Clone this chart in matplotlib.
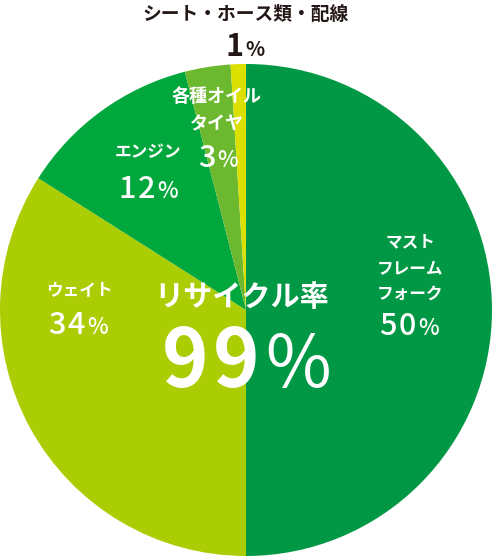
import matplotlib.pyplot as plt

plt.rcParams['font.family'] = ['Noto Sans CJK JP', 'DejaVu Sans']

# data, clockwise from 12 o'clock
parts = ['マスト\nフレーム\nフォーク', 'ウェイト', 'エンジン', '各種オイル\nタイヤ', 'シート・ホース類・配線']
shares = [50, 34, 12, 3, 1]
colors = ['#009844', '#abcd03', '#00a73c', '#6cb92f', '#dbe000']
recycle_rate = 99

W, H = 492, 560
fig = plt.figure(figsize=(W / 100, H / 100), dpi=100)
ax = fig.add_axes([0, 0, 1, 1])

cx, cy, r = 246, H - 310, 246
ax.pie(shares, colors=colors, startangle=90, counterclock=False,
       center=(cx, cy), radius=r, frame=True,
       wedgeprops=dict(linewidth=0))
ax.set_xlim(0, W)
ax.set_ylim(0, H)
ax.set_aspect('equal')
ax.axis('off')
rend = fig.canvas.get_renderer()


def pct(x, base, value, size, color, ratio=0.72, track=2, weight='medium', pweight='medium'):
    # digits spaced out one by one, then a smaller % sign; x = centre, base = baseline (px from top)
    pieces = [(c, size, weight) for c in str(value)] + [('%', size * ratio, pweight)]
    arts = []
    for s, fs, fw in pieces:
        t = ax.text(0, H - base, s, fontsize=fs, color=color, fontweight=fw,
                    ha='left', va='baseline')
        arts.append((t, t.get_window_extent(rend).width))
    total = sum(w for _, w in arts) + track * (len(arts) - 1)
    left = x - total / 2
    for t, w in arts:
        t.set_x(left)
        left += w + track


def label(x, y, s, size=11.5, color='white'):
    ax.text(x, H - y, s, fontsize=size, color=color, fontweight='bold',
            ha='center', va='center', linespacing=1.55)


# positions in pixels from the top
label(410, 268, parts[0], size=12)
pct(409, 335, shares[0], 22, 'white')
label(79, 290, parts[1], size=12)
pct(78, 334, shares[1], 22, 'white')
label(148, 152, parts[2], size=12)
pct(148, 198, shares[2], 22, 'white')
label(217, 110, parts[3], size=13)
pct(218, 167, shares[3], 22, 'white')
label(246, 14, parts[4], size=13.5, color='#231815')
pct(245, 56, shares[4], 22, '#231815', ratio=0.65, weight='bold', pweight='bold')

label(242, 297, 'リサイクル率', size=21)
pct(246, 387, recycle_rate, 57, 'white', ratio=0.9, track=5, weight='bold', pweight='normal')

fig.savefig('out.png', dpi=100)
